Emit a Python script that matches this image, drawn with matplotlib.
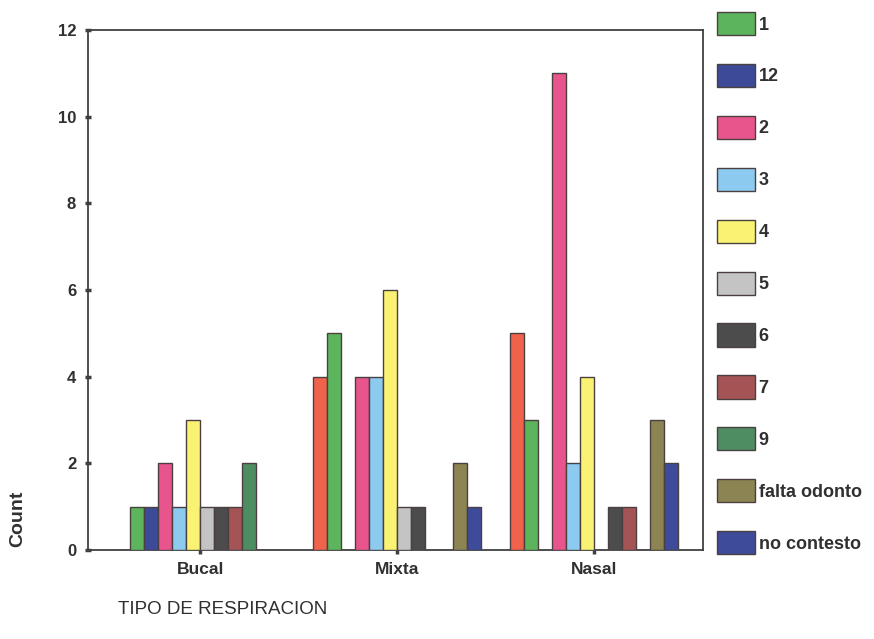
import matplotlib
matplotlib.use("Agg")
import matplotlib.pyplot as plt
import numpy as np
from matplotlib.patches import Patch

plt.rcParams['font.family'] = ['Liberation Sans', 'DejaVu Sans']

categories = ["Bucal", "Mixta", "Nasal"]
series = ["(otro)", "1", "12", "2", "3", "4", "5", "6", "7", "9", "falta odonto", "no contesto"]
values = {
    "(otro)":       [0, 4, 5],
    "1":            [1, 5, 3],
    "12":           [1, 0, 0],
    "2":            [2, 4, 11],
    "3":            [1, 4, 2],
    "4":            [3, 6, 4],
    "5":            [1, 1, 0],
    "6":            [1, 1, 1],
    "7":            [1, 0, 1],
    "9":            [2, 0, 0],
    "falta odonto": [0, 2, 3],
    "no contesto":  [0, 1, 2],
}
colors = ["#f0624c", "#5cb55c", "#3c4a98", "#e8548c", "#8ccaf0", "#faf272",
          "#c4c4c4", "#4c4c4c", "#a45454", "#4e8c62", "#8c8452", "#3e4a9a"]
legend_series = series[1:]
yticks = [0, 2, 4, 6, 8, 10, 12]

fig = plt.figure(figsize=(8.74, 6.39), dpi=100)
ax = fig.add_axes([88/874, 1-550/639, (703-88)/874, (550-30)/639])

x = np.arange(len(categories))
n = len(series)
w = 0.0711
for i, s in enumerate(series):
    off = (i - (n - 1) / 2) * w
    ax.bar(x + off, values[s], width=w, color=colors[i], edgecolor="#4a4040",
           linewidth=1.0, zorder=3)

ax.set_xlim(-0.57, 2.555)
ax.set_ylim(0, 12)
ax.set_yticks(yticks)
ax.set_yticklabels([str(t) for t in yticks], fontsize=12, fontweight='bold', color="#303030")
ax.set_xticks(x)
ax.set_xticklabels(categories, fontsize=12.5, fontweight='bold', color="#303030")
ax.tick_params(axis='y', direction='inout', length=5, width=2.5, color="#404040", pad=6)
ax.tick_params(axis='x', direction='out', length=3, width=2.5, color="#404040", pad=6)
for sp in ax.spines.values():
    sp.set_color("#404040")
    sp.set_linewidth(1.3)

fig.text(18/874, 1-519/639, "Count", rotation=90, ha='center', va='center',
         fontsize=14, fontweight='bold', color="#303030")
fig.text(118/874, 1-609/639, "TIPO DE RESPIRACION", ha='left', va='center',
         fontsize=13.5, color="#303030")

handles = [Patch(facecolor=colors[series.index(s)], edgecolor="#4a4040", linewidth=1.0)
           for s in legend_series]
leg = fig.legend(handles, legend_series, loc='upper left',
                 bbox_to_anchor=(717/874, 1-12/639), frameon=False,
                 handlelength=2.1, handleheight=1.6, labelspacing=1.59,
                 handletextpad=0.2, borderpad=0, borderaxespad=0,
                 prop={'size': 13, 'weight': 'bold'})
for t in leg.get_texts():
    t.set_color("#303030")

fig.savefig("out.png", dpi=100, facecolor="white")
